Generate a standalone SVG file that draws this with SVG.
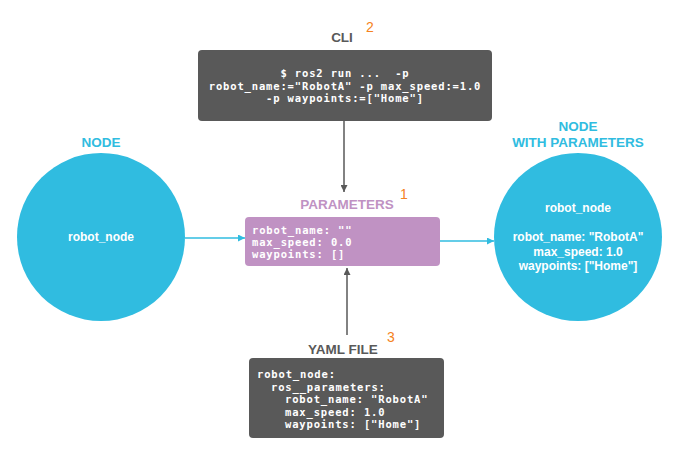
<svg xmlns="http://www.w3.org/2000/svg" width="691" height="466" viewBox="0 0 691 466">
<defs>
<style>
.hd{font-family:"Liberation Sans",Arial,sans-serif;font-weight:bold;font-size:13.5px;text-anchor:middle}
.num{font-family:"Liberation Sans",Arial,sans-serif;font-size:14px;fill:#F58220}
.code{font-family:"DejaVu Sans Mono","Liberation Mono",monospace;font-size:10.5px;letter-spacing:0.85px;fill:#fff;font-weight:bold;white-space:pre}
.ct{font-family:"Liberation Sans",Arial,sans-serif;font-weight:bold;font-size:12px;fill:#fff;text-anchor:middle}
.gbox{fill:#595959}
.cy{stroke:#30BCE0;stroke-width:1.5;fill:none}
.gy{stroke:#595959;stroke-width:1.5;fill:none}
</style>
<marker id="ac" viewBox="0 0 10 10" refX="10" refY="5" markerWidth="7" markerHeight="7" orient="auto" markerUnits="userSpaceOnUse"><path d="M0,0L10,5L0,10z" fill="#30BCE0"/></marker>
<marker id="ag" viewBox="0 0 10 10" refX="10" refY="5" markerWidth="7" markerHeight="7" orient="auto" markerUnits="userSpaceOnUse"><path d="M0,0L10,5L0,10z" fill="#595959"/></marker>
</defs>
<rect width="691" height="466" fill="#fff"/>
<g id="connectors">
<line class="cy" x1="185" y1="238" x2="245" y2="238" marker-end="url(#ac)"/>
<line class="cy" x1="440" y1="241" x2="494" y2="241" marker-end="url(#ac)"/>
<line class="gy" x1="344" y1="121" x2="344" y2="192" marker-end="url(#ag)"/>
<line class="gy" x1="347" y1="335" x2="347" y2="268" marker-end="url(#ag)"/>
</g>
<g id="node">
<text class="hd" x="101" y="147" fill="#30BCE0">NODE</text>
<circle cx="101" cy="237" r="84" fill="#30BCE0"/>
<text class="ct" x="101" y="241">robot_node</text>
</g>
<g id="node-with-parameters">
<text class="hd" x="578" y="131" fill="#30BCE0">NODE</text>
<text class="hd" x="578" y="147" fill="#30BCE0">WITH PARAMETERS</text>
<circle cx="578" cy="237" r="84" fill="#30BCE0"/>
<text class="ct" x="578" y="212">robot_node</text>
<text class="ct" x="578" y="241">robot_name: "RobotA"</text>
<text class="ct" x="578" y="256">max_speed: 1.0</text>
<text class="ct" x="578" y="270">waypoints: ["Home"]</text>
</g>
<g id="cli">
<text class="hd" x="342" y="42" fill="#595959">CLI</text>
<text class="num" x="366" y="32">2</text>
<rect class="gbox" x="198" y="50" width="294" height="71" rx="4"/>
<text class="code" x="345" y="77" text-anchor="middle" xml:space="preserve">$ ros2 run ...  -p</text>
<text class="code" x="345" y="89.5" text-anchor="middle">robot_name:="RobotA" -p max_speed:=1.0</text>
<text class="code" x="345" y="102" text-anchor="middle">-p waypoints:=["Home"]</text>
</g>
<g id="parameters">
<text class="hd" x="347" y="209" fill="#C092C3">PARAMETERS</text>
<text class="num" x="400" y="199">1</text>
<rect x="245" y="217" width="195" height="49" rx="4" fill="#C092C3"/>
<text class="code" x="252" y="233.5">robot_name: ""</text>
<text class="code" x="252" y="245.5">max_speed: 0.0</text>
<text class="code" x="252" y="257.5">waypoints: []</text>
</g>
<g id="yaml-file">
<text class="hd" x="343" y="354" fill="#595959">YAML FILE</text>
<text class="num" x="387" y="342">3</text>
<rect class="gbox" x="249" y="358" width="195" height="80" rx="4"/>
<text class="code" x="257" y="378">robot_node:</text>
<text class="code" x="271" y="390.5">ros__parameters:</text>
<text class="code" x="285" y="403">robot_name: "RobotA"</text>
<text class="code" x="285" y="415.5">max_speed: 1.0</text>
<text class="code" x="285" y="428">waypoints: ["Home"]</text>
</g>
</svg>
